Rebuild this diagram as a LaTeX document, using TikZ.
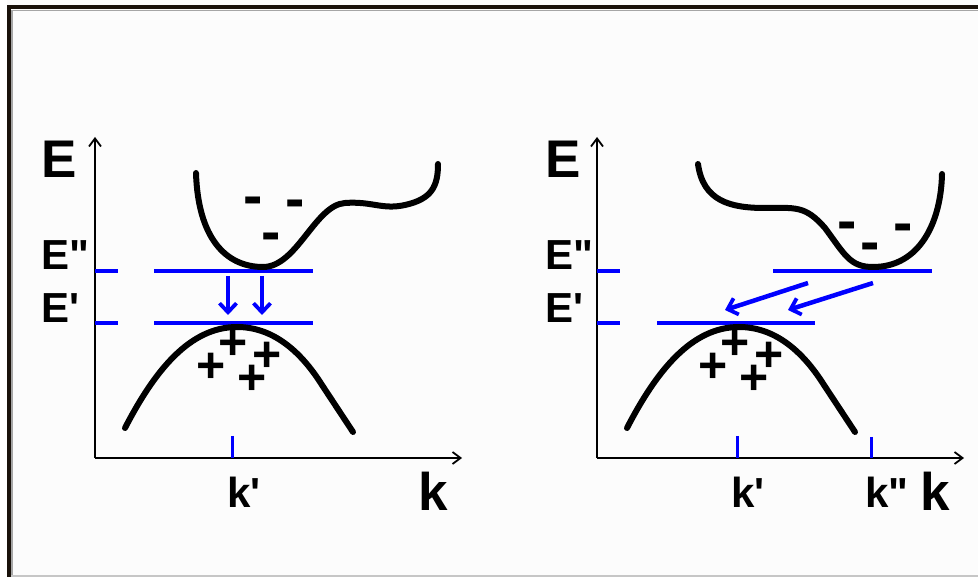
\documentclass[tikz,border=0pt]{standalone}
\usepackage{fontspec}
\setmainfont{Liberation Sans}
\usetikzlibrary{arrows.meta}
\definecolor{bandblue}{RGB}{0,0,255}
\definecolor{framedark}{RGB}{25,17,10}
\begin{document}
\begin{tikzpicture}[x=1pt,y=-1pt,
  axis/.style={line width=2.5pt,-{Straight Barb[length=8pt,width=12pt,line width=1.8pt]}},
  band/.style={line width=6pt,line cap=round},
  level/.style={draw=bandblue,line width=3.4pt},
  trans/.style={draw=bandblue,line width=4.5pt,-{Straight Barb[length=9pt,width=17pt,line width=3.8pt]}},
  ktick/.style={draw=bandblue,line width=3pt},
  lbl/.style={inner sep=0pt,anchor=base west,font=\bfseries\fontsize{42}{42}\selectfont},
  biglbl/.style={inner sep=0pt,anchor=base west,font=\bfseries\fontsize{53}{53}\selectfont},
  plus/.style={inner sep=-4.5pt,font=\bfseries\fontsize{50}{50}\selectfont},
  minus/.style={inner sep=0pt,anchor=base,font=\bfseries\fontsize{58}{58}\selectfont},
]
\useasboundingbox (0,0) rectangle (978,577);
\fill[white!99!black] (0,0) rectangle (978,577);
\fill[white] (0,0) rectangle (7,577);
% frame
\draw[gray!70,line width=1.5pt] (12,577) -- (12,10.5) -- (978,10.5);
\draw[framedark,line width=4pt] (9,577) -- (9,7) -- (978,7);
\draw[gray!45,line width=1.5pt] (11,576.2) -- (978,576.2);

% ================= LEFT PANEL =================
\coordinate (LO) at (95,458);
\coordinate (LYt) at (95,137);
\coordinate (LXt) at (462,458);
\draw[axis] (LO) -- (LYt);
\draw[axis] (LO) -- (LXt);
\node[biglbl] (LE) at (41,178) {E};
\node[lbl] (LEpp) at (41,270) {E\textquotedbl};
\node[lbl] (LEp) at (41,323) {E\textquotesingle};
\node[biglbl] (Lk) at (418,510) {k};
\node[lbl] (Lkp) at (227,507) {k\textquotesingle};
% levels
\draw[level] (95,271) -- (118,271);
\draw[level] (154,271) -- (313,271);
\draw[level] (95,323) -- (118,323);
\draw[level] (154,323) -- (313,323);
\draw[ktick] (232,436) -- (232,458);
% conduction band
\draw[band] (196,173) .. controls (198,237) and (225,267) .. (263,267)
  .. controls (297,267) and (315,205) .. (345,203)
  .. controls (372,201) and (382,210) .. (405,205)
  .. controls (432,199) and (438,186) .. (438,164);
% valence band
\draw[band] (125,428) .. controls (155,370) and (190,327) .. (237,327)
  .. controls (272,327) and (300,350) .. (322,385) -- (353,432);
% carriers
\node[minus] (Lm1) at (253,216) {-};
\node[minus] (Lm2) at (295,219) {-};
\node[minus] (Lm3) at (271,252) {-};
\node[plus] (Lp1) at (233,345) {+};
\node[plus] (Lp2) at (211,368) {+};
\node[plus] (Lp3) at (267,357) {+};
\node[plus] (Lp4) at (252,380) {+};
% transitions
\coordinate (La1s) at (228,276); \coordinate (La1e) at (228,315);
\coordinate (La2s) at (262,276); \coordinate (La2e) at (262,315);
\draw[trans] (La1s) -- (La1e);
\draw[trans] (La2s) -- (La2e);

% ================= RIGHT PANEL =================
\coordinate (RO) at (597,458);
\coordinate (RYt) at (597,137);
\coordinate (RXt) at (964,458);
\draw[axis] (RO) -- (RYt);
\draw[axis] (RO) -- (RXt);
\node[biglbl] (RE) at (545,178) {E};
\node[lbl] (REpp) at (545,270) {E\textquotedbl};
\node[lbl] (REp) at (545,323) {E\textquotesingle};
\node[biglbl] (Rk) at (920,510) {k};
\node[lbl] (Rkp) at (731,507) {k\textquotesingle};
\node[lbl] (Rkpp) at (865,507) {k\textquotedbl};
% levels
\draw[level] (597,271) -- (620,271);
\draw[level] (773,271) -- (932,271);
\draw[level] (597,323) -- (620,323);
\draw[level] (657,323) -- (815,323);
\draw[ktick] (737,436) -- (737,458);
\draw[ktick] (871,437) -- (871,458);
% conduction band
\draw[band] (698,164) .. controls (703,201) and (730,208) .. (765,208)
  .. controls (795,208) and (805,205) .. (825,228)
  .. controls (845,255) and (850,267) .. (873,267)
  .. controls (920,267) and (941,222) .. (942,174);
% valence band
\begin{scope}[xshift=502pt]
\draw[band] (125,428) .. controls (155,370) and (190,327) .. (237,327)
  .. controls (272,327) and (300,350) .. (322,385) -- (353,432);
\end{scope}
% carriers
\node[minus] (Rm1) at (847,241) {-};
\node[minus] (Rm2) at (870,262) {-};
\node[minus] (Rm3) at (903,243) {-};
\node[plus] (Rp1) at (735,345) {+};
\node[plus] (Rp2) at (713,368) {+};
\node[plus] (Rp3) at (769,357) {+};
\node[plus] (Rp4) at (754,380) {+};
% transitions
\coordinate (Ra1s) at (808,283); \coordinate (Ra1e) at (725,310);
\coordinate (Ra2s) at (873,283); \coordinate (Ra2e) at (788,310);
\draw[trans] (Ra1s) -- (Ra1e);
\draw[trans] (Ra2s) -- (Ra2e);
\end{tikzpicture}
\end{document}
